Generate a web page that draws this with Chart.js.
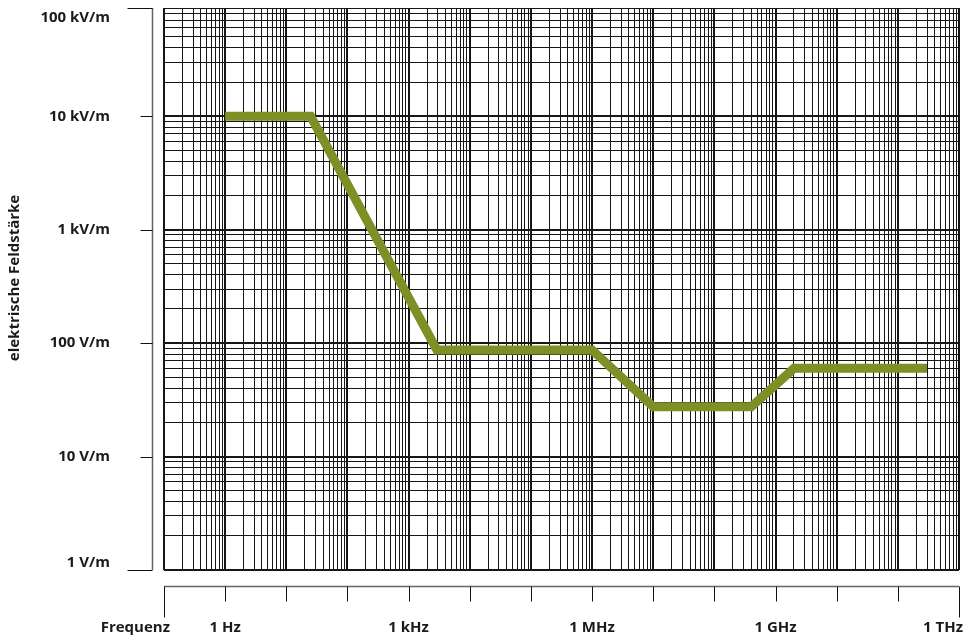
<!DOCTYPE html>
<html>
<head>
<meta charset="utf-8">
<script src="https://cdn.jsdelivr.net/npm/chart.js@4/dist/chart.umd.min.js"></script>
<style>
  html, body { margin: 0; padding: 0; background: #fff; }
  #wrap { width: 977px; height: 644px; }
</style>
</head>
<body>
<div id="wrap"><canvas id="c" width="977" height="644"></canvas></div>
<script>
// ---- data ----
const freqHz  = [1, 25, 2900, 1e6, 1e7, 4e8, 2e9, 3e11];
const fieldVm = [10000, 10000, 87, 87, 27.5, 27.5, 60, 60];

// ---- axis ranges / ticks ----
const xMin = 0.1, xMax = 1e12;
const yMin = 1, yMax = 90000;
const xTickValues = [1, 1e3, 1e6, 1e9, 1e12];
const xTickLabels = ['1 Hz', '1 kHz', '1 MHz', '1 GHz', '1 THz'];
const yTickValues = [1, 10, 100, 1000, 10000, 100000];
const yTickLabels = ['1 V/m', '10 V/m', '100 V/m', '1 kV/m', '10 kV/m', '100 kV/m'];
const xTitle = 'Frequenz';
const yTitle = 'elektrische Feldstärke';

const FONT = 'bold 15px "Open Sans", "DejaVu Sans", sans-serif';
const LINE_COLOR = '#7e8f25';

function logTicks(min, max) {
  const out = [];
  const e0 = Math.floor(Math.log10(min)), e1 = Math.ceil(Math.log10(max));
  for (let e = e0; e <= e1; e++) {
    for (let s = 1; s <= 9; s++) {
      const v = s * Math.pow(10, e);
      if (v >= min * 0.999 && v <= max * 1.001) out.push({ value: v, major: s === 1 });
    }
  }
  return out;
}

const axesPlugin = {
  id: 'customAxes',
  afterDraw(chart) {
    const ctx = chart.ctx;
    const xs = chart.scales.x, ys = chart.scales.y;
    const area = chart.chartArea;
    ctx.save();
    ctx.font = FONT;
    ctx.fillStyle = '#1a1a1a';

    // ---- y axis (separate, left of plot) ----
    const yAxisX = 152.5;
    ctx.strokeStyle = '#666';
    ctx.lineWidth = 1.5;
    ctx.beginPath();
    ctx.moveTo(yAxisX, area.top);
    ctx.lineTo(yAxisX, area.bottom);
    ctx.stroke();
    ctx.strokeStyle = '#111';
    ctx.lineWidth = 1;
    ctx.textAlign = 'right';
    ctx.textBaseline = 'middle';
    yTickValues.forEach((v, i) => {
      let py = ys.getPixelForValue(v);
      let ly;
      const isEnd = (i === 0 || i === yTickValues.length - 1);
      if (py < area.top) py = area.top;
      if (py > area.bottom) py = area.bottom;
      if (i === yTickValues.length - 1) ly = py + 10;
      else if (i === 0) ly = py - 7;
      else ly = py;
      const len = isEnd ? 25 : 12;
      const yy = Math.round(py) + 0.5;
      ctx.beginPath();
      ctx.moveTo(yAxisX - len, yy);
      ctx.lineTo(yAxisX, yy);
      ctx.stroke();
      ctx.fillText(yTickLabels[i], 110, ly);
    });

    // ---- x axis (separate, below plot) ----
    const xAxisY = 586.5;
    ctx.strokeStyle = '#666';
    ctx.lineWidth = 1.5;
    ctx.beginPath();
    ctx.moveTo(area.left, xAxisY);
    ctx.lineTo(area.right, xAxisY);
    ctx.stroke();
    ctx.strokeStyle = '#111';
    ctx.lineWidth = 1;
    const e0 = Math.round(Math.log10(xMin)), e1 = Math.round(Math.log10(xMax));
    for (let e = e0; e <= e1; e++) {
      const px = Math.round(xs.getPixelForValue(Math.pow(10, e))) + 0.5;
      const isEnd = (e === e0 || e === e1);
      ctx.beginPath();
      ctx.moveTo(px, xAxisY);
      ctx.lineTo(px, xAxisY + (isEnd ? 31 : 15));
      ctx.stroke();
    }
    ctx.textBaseline = 'middle';
    xTickValues.forEach((v, i) => {
      const px = xs.getPixelForValue(v);
      if (i === xTickValues.length - 1) {
        ctx.textAlign = 'right';
        ctx.fillText(xTickLabels[i], px + 4, 628);
      } else {
        ctx.textAlign = 'center';
        ctx.fillText(xTickLabels[i], px, 628);
      }
    });

    // ---- titles ----
    ctx.textAlign = 'right';
    ctx.fillText(xTitle, 170, 628);
    ctx.save();
    ctx.translate(15, 278);
    ctx.rotate(-Math.PI / 2);
    ctx.textAlign = 'center';
    ctx.fillText(yTitle, 0, 0);
    ctx.restore();

    ctx.restore();
  }
};

const gridOpts = {
  color: '#161616',
  lineWidth: (c) => (c.tick && c.tick.major ? 2 : 1),
  drawTicks: false
};

new Chart(document.getElementById('c'), {
  type: 'line',
  data: {
    datasets: [{
      data: freqHz.map((f, i) => ({ x: f, y: fieldVm[i] })),
      borderColor: LINE_COLOR,
      backgroundColor: LINE_COLOR,
      borderWidth: 9,
      pointRadius: 0,
      tension: 0,
      fill: false,
      borderCapStyle: 'butt',
      borderJoinStyle: 'miter'
    }]
  },
  options: {
    responsive: false,
    animation: false,
    events: [],
    layout: { padding: { left: 164, right: 18, top: 8, bottom: 74 } },
    plugins: { legend: { display: false }, tooltip: { enabled: false }, title: { display: false } },
    scales: {
      x: {
        type: 'logarithmic',
        min: xMin, max: xMax,
        position: 'bottom',
        border: { display: false },
        grid: gridOpts,
        ticks: { display: false },
        afterBuildTicks: (s) => { s.ticks = logTicks(xMin, xMax); },
        afterFit: (s) => { s.height = 0; }
      },
      y: {
        type: 'logarithmic',
        min: yMin, max: yMax,
        position: 'left',
        border: { display: false },
        grid: gridOpts,
        ticks: { display: false },
        afterBuildTicks: (s) => { s.ticks = logTicks(yMin, yMax); },
        afterFit: (s) => { s.width = 0; }
      }
    }
  },
  plugins: [axesPlugin]
});
</script>
</body>
</html>
